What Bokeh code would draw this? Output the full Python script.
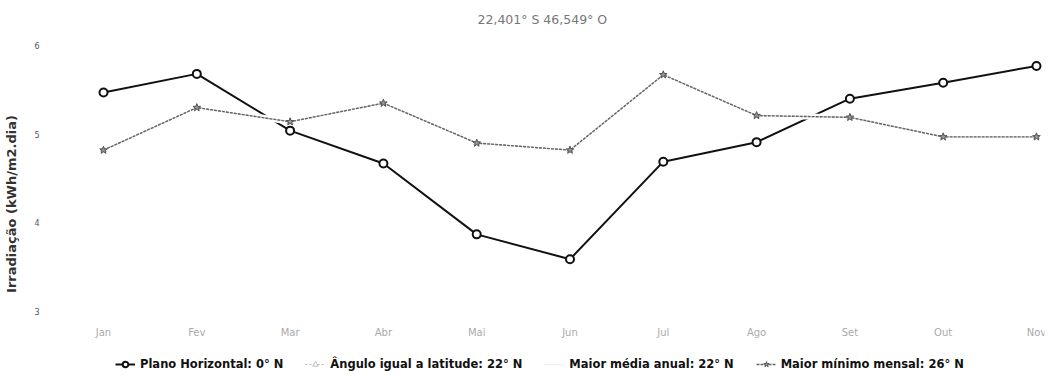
from bokeh.plotting import figure
from bokeh.models import Legend, LegendItem, FixedTicker, Range1d
from bokeh.embed import file_html
from bokeh.resources import INLINE

months = ["Jan", "Fev", "Mar", "Abr", "Mai", "Jun", "Jul", "Ago", "Set", "Out", "Nov"]
plano_horizontal = [5.47, 5.68, 5.04, 4.67, 3.87, 3.59, 4.69, 4.91, 5.40, 5.58, 5.77]
angulo_latitude = [4.82, 5.30, 5.14, 5.35, 4.90, 4.82, 5.67, 5.21, 5.19, 4.97, 4.97]
maior_media = [4.82, 5.30, 5.14, 5.35, 4.90, 4.82, 5.67, 5.21, 5.19, 4.97, 4.97]
maior_minimo = [4.82, 5.30, 5.14, 5.35, 4.90, 4.82, 5.67, 5.21, 5.19, 4.97, 4.97]
y_ticks = [3, 4, 5, 6]
X_AXIS_AT = 2.899  # value where the month labels sit

x = list(range(len(months)))
FONT = "DejaVu Sans"

p = figure(width=1050, height=378, output_backend="svg", toolbar_location=None,
           x_range=Range1d(-0.461, 10.086), y_range=Range1d(2.312, 6.113),
           min_border_left=60, min_border_right=6, min_border_top=35, min_border_bottom=6,
           title="22,401° S 46,549° O")
p.title.align = "left"
p.title.offset = 417
p.title.text_font = FONT
p.title.text_font_size = "12.5px"
p.title.text_font_style = "normal"
p.title.text_color = "#777777"
p.title.standoff = 18
p.grid.visible = False
p.outline_line_color = None
p.background_fill_color = "white"

p.xaxis.ticker = FixedTicker(ticks=x)
p.xaxis.major_label_overrides = {i: m for i, m in enumerate(months)}
p.xaxis.fixed_location = X_AXIS_AT
p.yaxis.ticker = FixedTicker(ticks=y_ticks)
for ax in (p.xaxis[0], p.yaxis[0]):
    ax.axis_line_color = None
    ax.major_tick_line_color = None
    ax.minor_tick_line_color = None
    ax.major_tick_out = 0
    ax.major_tick_in = 0
    ax.major_label_text_font = FONT
p.xaxis.major_label_text_font_size = "10px"
p.xaxis.major_label_text_color = "#aaaaaa"
p.xaxis.major_label_standoff = 7
p.yaxis.major_label_text_font_size = "8px"
p.yaxis.major_label_text_color = "#555555"
p.yaxis.major_label_standoff = 21
p.yaxis.axis_label = "Irradiação (kWh/m2.dia)"
p.yaxis.axis_label_text_font = FONT
p.yaxis.axis_label_text_font_size = "13px"
p.yaxis.axis_label_text_font_style = "bold"
p.yaxis.axis_label_text_color = "#333333"
p.yaxis.axis_label_standoff = 12

# black series (below the gray ones, which carry a white halo)
r_pl_l = p.line(x, plano_horizontal, line_color="#111111", line_width=2)
r_pl_m = p.scatter(x, plano_horizontal, marker="circle", size=8, line_color="#111111", line_width=2, fill_color="white")

# gray overlapping series
p.line(x, maior_minimo, line_color="white", line_width=6)
r_media_l = p.line(x, maior_media, line_color="#eeeeee", line_width=1.2)
r_ang_l = p.line(x, angulo_latitude, line_color="#bbbbbb", line_width=1.2, line_dash="2 2")
r_ang_m = p.scatter(x, angulo_latitude, marker="triangle", size=6, line_color="#bbbbbb", fill_color="white")
r_min_l = p.line(x, maior_minimo, line_color="#666666", line_width=1.4, line_dash="3 1")
r_min_m = p.scatter(x, maior_minimo, marker="star", size=8, line_color="#555555", fill_color="#999999")

legend = Legend(items=[
    LegendItem(label="Plano Horizontal: 0° N", renderers=[r_pl_l, r_pl_m]),
    LegendItem(label="Ângulo igual a latitude: 22° N", renderers=[r_ang_l, r_ang_m]),
    LegendItem(label="Maior média anual: 22° N", renderers=[r_media_l]),
    LegendItem(label="Maior mínimo mensal: 26° N", renderers=[r_min_l, r_min_m]),
], orientation="horizontal", location=(55, 1), padding=0, margin=0, spacing=22,
    label_standoff=5, label_text_font=FONT, label_text_font_size="11.5px", label_text_font_style="bold",
    label_text_color="#111111", glyph_width=20, glyph_height=14, label_height=14,
    border_line_color=None, background_fill_alpha=0)
p.add_layout(legend, "center")

open("out.html", "w").write(file_html(p, INLINE))
